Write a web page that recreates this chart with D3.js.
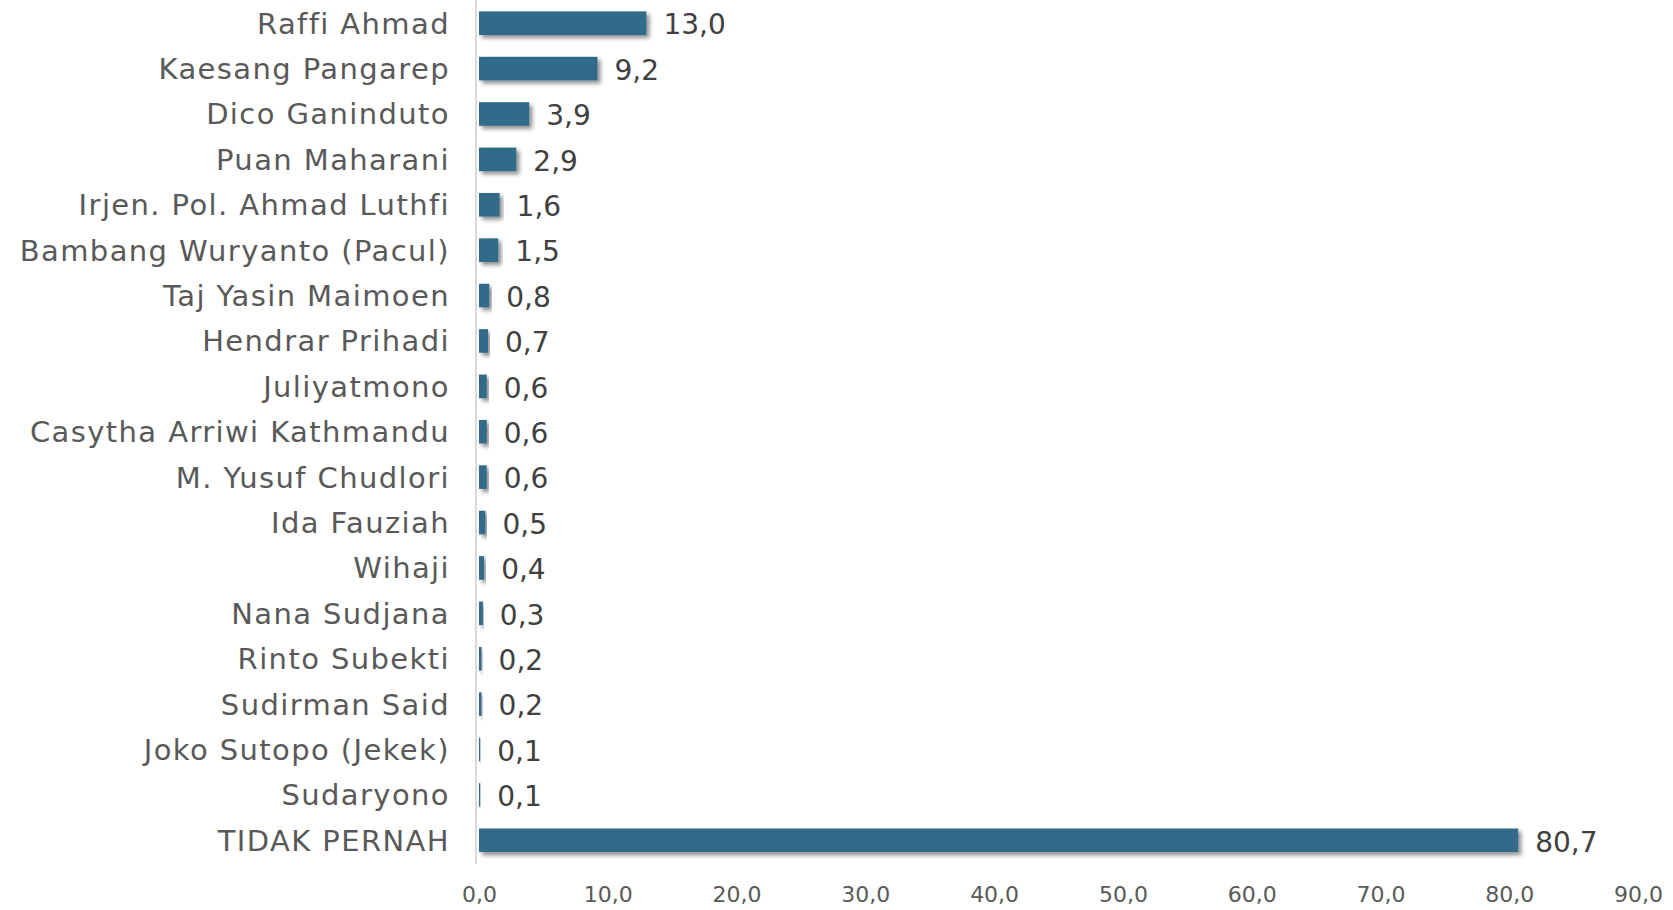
<!DOCTYPE html>
<html><head><meta charset="utf-8">
<script src="https://cdn.jsdelivr.net/npm/d3@7"></script>
<style>body{margin:0;background:#fff;}svg{display:block;}</style>
</head><body>
<svg id="chart" width="1673" height="910"></svg>
<script>
const categories = ["Raffi Ahmad","Kaesang Pangarep","Dico Ganinduto","Puan Maharani","Irjen. Pol. Ahmad Luthfi","Bambang Wuryanto (Pacul)","Taj Yasin Maimoen","Hendrar Prihadi","Juliyatmono","Casytha Arriwi Kathmandu","M. Yusuf Chudlori","Ida Fauziah","Wihaji","Nana Sudjana","Rinto Subekti","Sudirman Said","Joko Sutopo (Jekek)","Sudaryono","TIDAK PERNAH"];
const values = [13.0,9.2,3.9,2.9,1.6,1.5,0.8,0.7,0.6,0.6,0.6,0.5,0.4,0.3,0.2,0.2,0.1,0.1,80.7];
const tickValues = [0,10,20,30,40,50,60,70,80,90];

const svg = d3.select("#chart");
const fmt = v => v.toFixed(1).replace(".", ",");
const x = d3.scaleLinear().domain([0,90]).range([479,1638]);
const y = d3.scaleBand().domain(categories).range([0.5,863]).paddingInner(0.48).paddingOuter(0.24);

const defs = svg.append("defs");
const f = defs.append("filter").attr("id","sh").attr("x","-10%").attr("y","-40%").attr("width","130%").attr("height","200%");
f.append("feDropShadow").attr("dx",3).attr("dy",3).attr("stdDeviation",2).attr("flood-color","#000").attr("flood-opacity",0.45);

svg.append("g").selectAll("rect").data(values).join("rect")
  .attr("x", x(0)).attr("y",(d,i)=>y(categories[i]))
  .attr("width", d=>x(d)-x(0)).attr("height", y.bandwidth())
  .attr("fill","#336a8a").attr("filter","url(#sh)");

svg.append("line").attr("x1",x(0)-3).attr("x2",x(0)-3).attr("y1",0).attr("y2",864)
  .attr("stroke","#d9d9d9").attr("stroke-width",2);

const font = "'DejaVu Sans', sans-serif";
svg.append("g").selectAll("text").data(categories).join("text")
  .attr("x", 450).attr("y", d=>y(d)+y.bandwidth()/2).attr("dy","0.36em")
  .attr("text-anchor","end").attr("font-family",font).attr("font-size",29).attr("letter-spacing",1.4).attr("fill","#595959")
  .text(d=>d);

svg.append("g").selectAll("text").data(values).join("text")
  .attr("x", d=>x(d)+17).attr("y",(d,i)=>y(categories[i])+y.bandwidth()/2).attr("dy","0.4em")
  .attr("font-family",font).attr("font-size",28).attr("fill","#404040")
  .text(d=>fmt(d));

const ax = d3.axisBottom(x).tickValues(tickValues).tickFormat(fmt).tickSize(0);
const g = svg.append("g").attr("transform","translate(0,883)").call(ax);
g.select(".domain").remove();
g.selectAll("text").attr("font-family",font).attr("font-size",22).attr("fill","#595959");
</script>
</body></html>
